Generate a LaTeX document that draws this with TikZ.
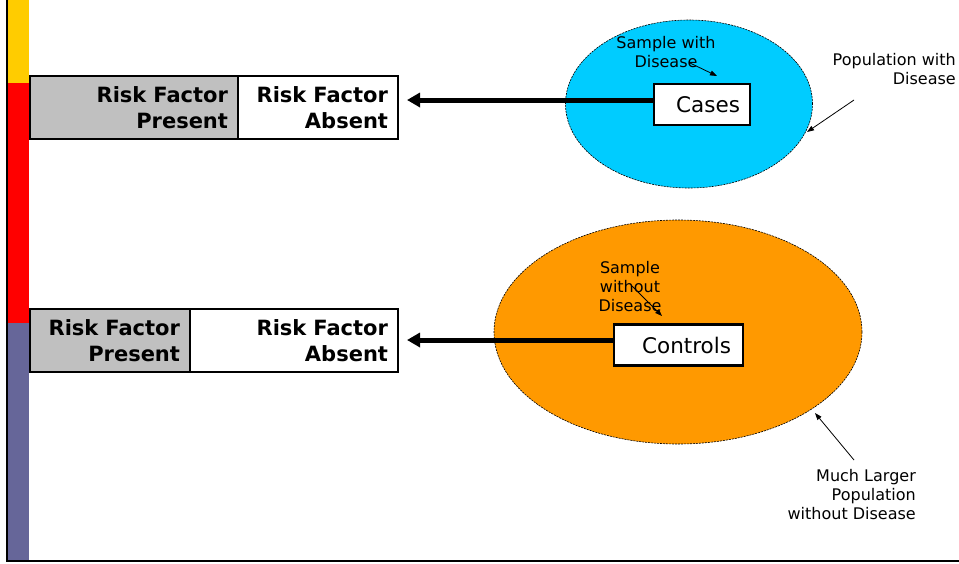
\documentclass[tikz,border=0pt]{standalone}
\usepackage{fontspec}
\setmainfont{DejaVu Sans}
\usetikzlibrary{shapes.geometric,arrows.meta}
\definecolor{cyanc}{HTML}{00CCFF}
\definecolor{orangec}{HTML}{FF9900}
\definecolor{yellowc}{HTML}{FFCC00}
\definecolor{redc}{HTML}{FF0000}
\definecolor{purplec}{HTML}{666699}
\definecolor{grayc}{HTML}{C0C0C0}
\tikzset{
  cell/.style={draw=black, line width=2pt, inner sep=0pt, outer sep=0pt, minimum height=63pt, align=right,
    font=\bfseries\fontsize{21}{26}\selectfont, anchor=north west},
  popu/.style={ellipse, draw=black, dashed, dash pattern=on 2pt off 1pt, line width=0.6pt, inner sep=0pt},
  sbox/.style={draw=black, line width=2.5pt, fill=white, inner sep=0pt, outer sep=0pt, minimum height=41pt,
    align=right, font=\fontsize{21.5}{24}\selectfont},
  lbl/.style={inner sep=0pt, font=\fontsize{16}{19}\selectfont},
  bigarrow/.style={line width=5pt, -{Triangle[length=13pt,width=14pt]}, shorten >=9pt},
  thinarrow/.style={line width=0.8pt, -{Triangle[length=7pt,width=5pt]}}
}
\begin{document}
\begin{tikzpicture}[x=1pt,y=-1pt]
\useasboundingbox (0,0) rectangle (959,563);
% side bar
\fill[yellowc] (8,0) rectangle (29,83);
\fill[redc] (8,83) rectangle (29,323);
\fill[purplec] (8,323) rectangle (29,560);
\draw[line width=2pt] (7,0) -- (7,561) -- (959,561);
% populations
\node[popu, fill=cyanc, minimum width=247pt, minimum height=168pt] (pop1) at (689,104) {};
\node[popu, fill=orangec, minimum width=368pt, minimum height=224pt] (pop2) at (678,332) {};
% risk factor boxes
\node[cell, fill=grayc, minimum width=208pt, text width=188pt] (rf1p) at (30,76) {Risk Factor\\Present};
\node[cell, fill=white, minimum width=160pt, text width=140pt] (rf1a) at (rf1p.north east) {Risk Factor\\Absent};
\node[cell, fill=grayc, minimum width=160pt, text width=140pt] (rf2p) at (30,309) {Risk Factor\\Present};
\node[cell, fill=white, minimum width=208pt, text width=188pt] (rf2a) at (rf2p.north east) {Risk Factor\\Absent};
% sample boxes
\node[sbox, minimum width=96pt, text width=76pt] (cases) at (702,104.5) {Cases};
\node[sbox, minimum width=129pt, text width=105pt] (controls) at (678.5,345) {Controls};
% big arrows
\coordinate (a1) at (cases.west |- 0,100);
\coordinate (a2) at (controls.west |- 0,340);
\draw[bigarrow] (a1) -- (rf1a.east |- a1);
\draw[bigarrow] (a2) -- (rf2a.east |- a2);
% labels
\node[lbl, align=center] (s1) at (666,52.5) {Sample with\\Disease};
\coordinate (s1a) at (690,63);
\coordinate (s1b) at (717,76);
\draw[thinarrow] (s1a) -- (s1b);
\node[lbl, align=right, anchor=east] (p1) at (956,69) {Population with\\Disease};
\coordinate (p1a) at (854,100);
\coordinate (p1b) at (807,132);
\draw[thinarrow] (p1a) -- (p1b);
\node[lbl, align=center] (s2) at (630,286.5) {Sample\\without\\Disease};
\coordinate (s2a) at (632,286);
\coordinate (s2b) at (662,316);
\draw[thinarrow] (s2a) -- (s2b);
\node[lbl, align=right, anchor=east] (p2) at (916,494.5) {Much Larger\\Population\\without Disease};
\coordinate (p2a) at (854,460);
\coordinate (p2b) at (815,413);
\draw[thinarrow] (p2a) -- (p2b);
\end{tikzpicture}
\end{document}
